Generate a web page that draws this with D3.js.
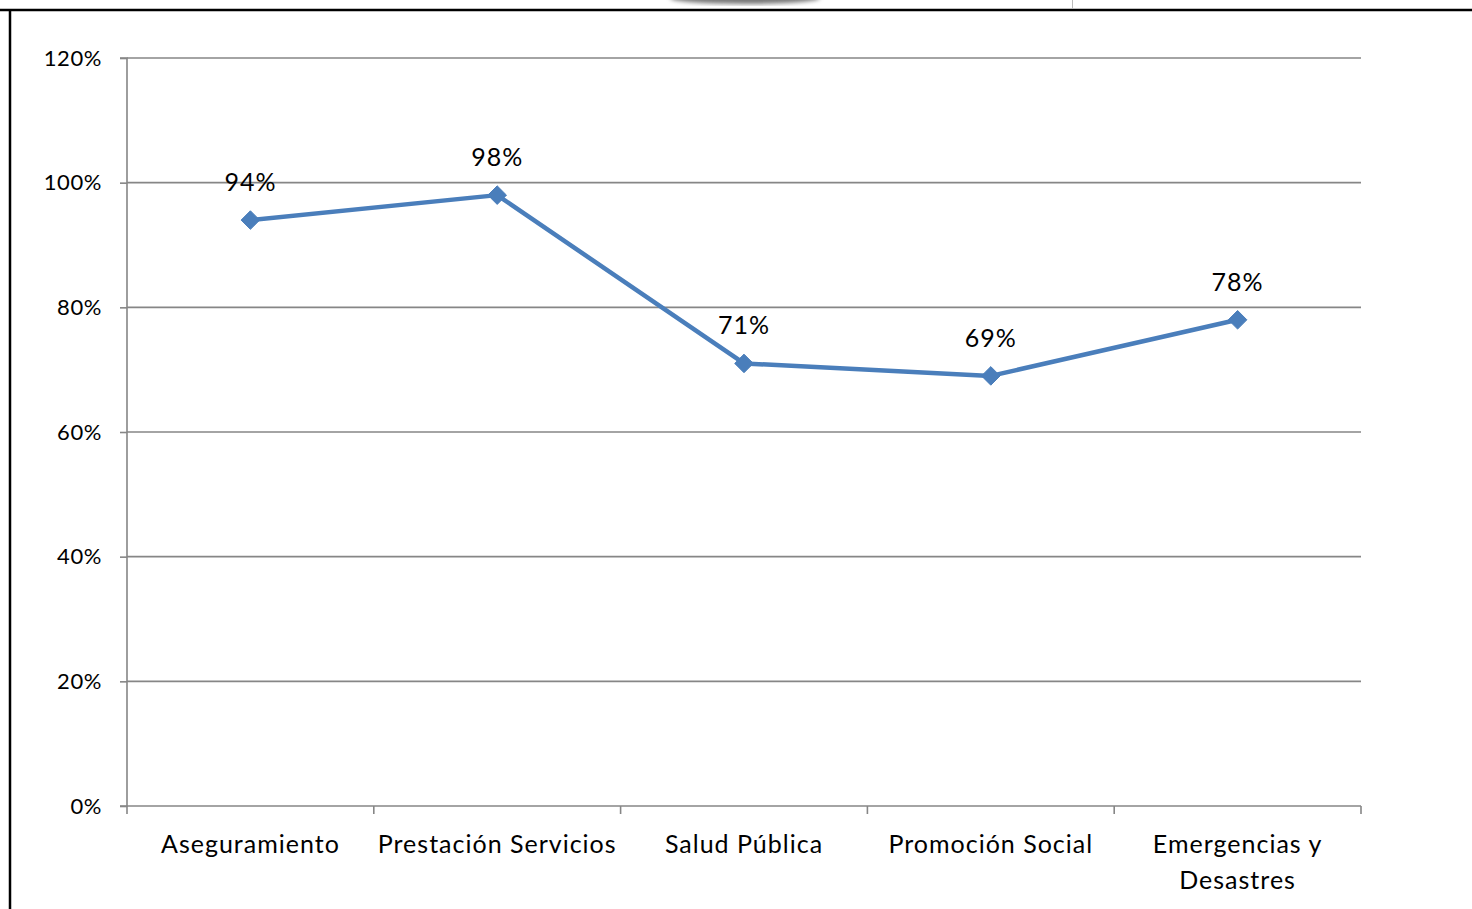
<!DOCTYPE html>
<html>
<head>
<meta charset="utf-8">
<script src="https://cdn.jsdelivr.net/npm/d3@7"></script>
<style>
  html, body { margin: 0; padding: 0; background: #fff; }
  svg { display: block; }
  text { font-family: Lato, "Open Sans", sans-serif; fill: #000; }
</style>
</head>
<body>
<svg id="chart" width="1472" height="909"></svg>
<script>
// Cumplimiento por eje programático
const categories = ["Aseguramiento", "Prestación Servicios", "Salud Pública", "Promoción Social", "Emergencias y Desastres"];
const categoryLines = [["Aseguramiento"], ["Prestación Servicios"], ["Salud Pública"], ["Promoción Social"], ["Emergencias y", "Desastres"]];
const values = [0.94, 0.98, 0.71, 0.69, 0.78];
const yTicks = [0, 0.2, 0.4, 0.6, 0.8, 1.0, 1.2];

const svg = d3.select("#chart");
const W = 1472, H = 909;
const plot = { left: 127, right: 1361, top: 58, bottom: 806 };

// page frame
svg.append("line").attr("x1", 0).attr("x2", W).attr("y1", 10).attr("y2", 10)
  .attr("stroke", "#000").attr("stroke-width", 2.5);
svg.append("line").attr("x1", 10).attr("x2", 10).attr("y1", 10).attr("y2", H)
  .attr("stroke", "#000").attr("stroke-width", 2.5);
svg.append("line").attr("x1", 1072.5).attr("x2", 1072.5).attr("y1", 0).attr("y2", 9)
  .attr("stroke", "#bbb").attr("stroke-width", 1);
const defs = svg.append("defs");
defs.append("filter").attr("id", "soft").append("feGaussianBlur").attr("stdDeviation", 2);
svg.append("ellipse").attr("cx", 745).attr("cy", -2).attr("rx", 75).attr("ry", 6)
  .attr("fill", "#777").attr("filter", "url(#soft)");

const x = d3.scaleBand().domain(categories).range([plot.left, plot.right]).padding(0);
const y = d3.scaleLinear().domain([0, 1.2]).range([plot.bottom, plot.top]);

// horizontal gridlines
svg.append("g").selectAll("line").data(yTicks.filter(d => d > 0)).join("line")
  .attr("x1", plot.left).attr("x2", plot.right)
  .attr("y1", d => y(d)).attr("y2", d => y(d))
  .attr("stroke", "#868686").attr("stroke-width", 1.6);

// y axis
const yAxis = d3.axisLeft(y).tickValues(yTicks).tickFormat(d3.format(".0%")).tickSize(7).tickPadding(18);
const gy = svg.append("g").attr("transform", `translate(${plot.left},0)`).call(yAxis);
gy.select(".domain").attr("stroke", "#868686").attr("stroke-width", 1.6).attr("d", `M-7,${plot.bottom}H0V${plot.top}H-7`);
gy.selectAll(".tick line").attr("stroke", "#868686").attr("stroke-width", 1.6);
gy.selectAll(".tick text").attr("font-size", 22).attr("font-family", "Lato, sans-serif")
  .attr("letter-spacing", 0.6).attr("fill", "#000");

// x axis with ticks at band boundaries
svg.append("line").attr("x1", plot.left).attr("x2", plot.right).attr("y1", plot.bottom).attr("y2", plot.bottom)
  .attr("stroke", "#868686").attr("stroke-width", 1.6);
const bounds = categories.map(c => x(c)).concat([x(categories[categories.length - 1]) + x.bandwidth()]);
svg.append("g").selectAll("line").data(bounds).join("line")
  .attr("x1", d => d).attr("x2", d => d)
  .attr("y1", plot.bottom).attr("y2", plot.bottom + 8)
  .attr("stroke", "#868686").attr("stroke-width", 1.6);

// category labels
const cx = c => x(c) + x.bandwidth() / 2;
svg.append("g").selectAll("text").data(categories).join("text")
  .attr("x", d => cx(d)).attr("y", 853)
  .attr("text-anchor", "middle").attr("font-size", 25).attr("letter-spacing", 1)
  .each(function(d, i) {
    const t = d3.select(this);
    categoryLines[i].forEach((ln, j) => {
      t.append("tspan").attr("x", cx(d)).attr("dy", j === 0 ? 0 : 36).text(ln);
    });
  });

// series line
const pts = categories.map((c, i) => [cx(c), y(values[i])]);
svg.append("path").attr("d", d3.line()(pts))
  .attr("fill", "none").attr("stroke", "#4a7ebb").attr("stroke-width", 4.5)
  .attr("stroke-linejoin", "round");

// diamond markers
svg.append("g").selectAll("path").data(pts).join("path")
  .attr("transform", d => `translate(${d[0]},${d[1]})`)
  .attr("d", d3.symbol(d3.symbolDiamond2, 220)())
  .attr("fill", "#4a7ebb").attr("stroke", "#4a7ebb").attr("stroke-width", 1);

// value labels
svg.append("g").selectAll("text").data(categories).join("text")
  .attr("x", d => cx(d)).attr("y", (d, i) => y(values[i]) - 29)
  .attr("text-anchor", "middle").attr("font-size", 25).attr("letter-spacing", 1)
  .text((d, i) => d3.format(".0%")(values[i]));
</script>
</body>
</html>
